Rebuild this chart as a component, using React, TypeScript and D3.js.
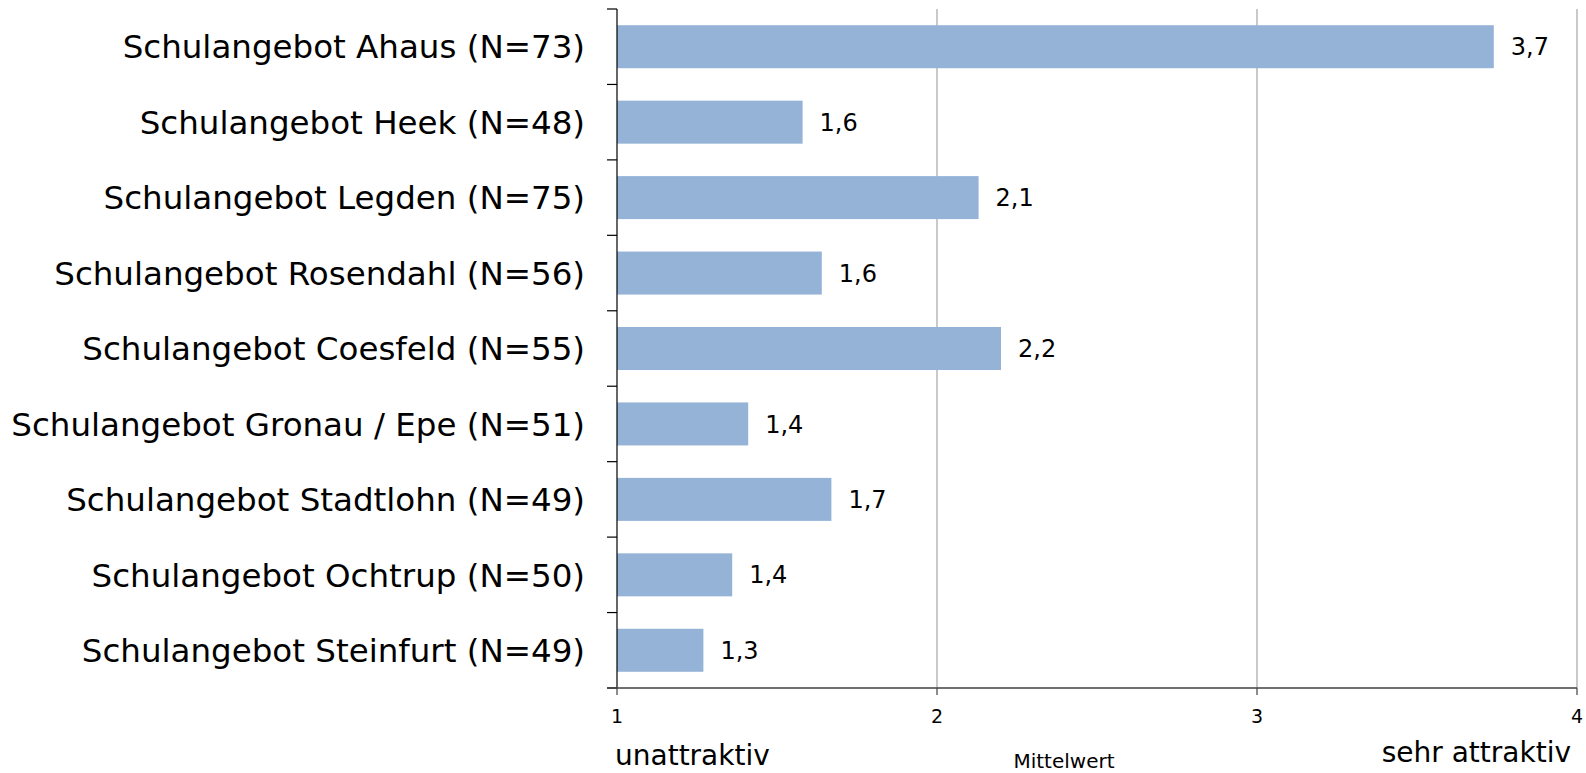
import React, { useEffect, useRef } from "react";
import * as d3 from "d3";

const categories = [
  "Schulangebot Ahaus (N=73)",
  "Schulangebot Heek (N=48)",
  "Schulangebot Legden (N=75)",
  "Schulangebot Rosendahl (N=56)",
  "Schulangebot Coesfeld (N=55)",
  "Schulangebot Gronau / Epe (N=51)",
  "Schulangebot Stadtlohn (N=49)",
  "Schulangebot Ochtrup (N=50)",
  "Schulangebot Steinfurt (N=49)",
];
const values = [3.74, 1.58, 2.13, 1.64, 2.2, 1.41, 1.67, 1.36, 1.27];
const xTicks = [1, 2, 3, 4];

const W = 1586;
const H = 773;
const FONT = "'DejaVu Sans', Verdana, sans-serif";

const App: React.FC = () => {
  const svgRef = useRef<SVGSVGElement | null>(null);

  useEffect(() => {
    if (!svgRef.current) return;
    const svg = d3.select(svgRef.current);
    svg.selectAll("*").remove();

    const margin = { top: 9, right: 9, bottom: 85, left: 617 };
    const innerW = W - margin.left - margin.right;
    const innerH = H - margin.top - margin.bottom;

    const x = d3.scaleLinear().domain([1, 4]).range([0, innerW]);
    const y = d3.scaleBand().domain(categories).range([0, innerH]).paddingInner(0.43).paddingOuter(0.215);
    const band = d3.scaleBand().domain(categories).range([0, innerH]);

    const g = svg.append("g").attr("transform", `translate(${margin.left},${margin.top})`);

    // vertical gridlines
    g.selectAll(".grid")
      .data(xTicks.slice(1))
      .enter()
      .append("line")
      .attr("x1", (d) => x(d))
      .attr("x2", (d) => x(d))
      .attr("y1", 0)
      .attr("y2", innerH)
      .attr("stroke", "#a6a6a6")
      .attr("stroke-width", 1.2);

    // bars
    g.selectAll(".bar")
      .data(values)
      .enter()
      .append("rect")
      .attr("x", 0)
      .attr("y", (_, i) => y(categories[i])!)
      .attr("width", (d) => x(d) - x(1))
      .attr("height", y.bandwidth())
      .attr("fill", "#95b3d7");

    // value labels
    g.selectAll(".val")
      .data(values)
      .enter()
      .append("text")
      .attr("x", (d) => x(d) + 17)
      .attr("y", (_, i) => y(categories[i])! + y.bandwidth() / 2)
      .attr("dy", "0.36em")
      .attr("font-family", FONT)
      .attr("font-size", 24)
      .attr("fill", "#000")
      .text((d) => d3.format(".1f")(d).replace(".", ","));

    // y axis
    const yAxis = g.append("g");
    yAxis
      .append("line")
      .attr("x1", 0)
      .attr("x2", 0)
      .attr("y1", 0)
      .attr("y2", innerH)
      .attr("stroke", "#000")
      .attr("stroke-width", 1.2);
    const bounds = [...categories.map((c) => band(c)!), innerH];
    yAxis
      .selectAll(".yt")
      .data(bounds)
      .enter()
      .append("line")
      .attr("x1", -10)
      .attr("x2", 0)
      .attr("y1", (d) => d)
      .attr("y2", (d) => d)
      .attr("stroke", "#000")
      .attr("stroke-width", 1.2);
    yAxis
      .selectAll(".cat")
      .data(categories)
      .enter()
      .append("text")
      .attr("x", -32)
      .attr("y", (d) => band(d)! + band.bandwidth() / 2)
      .attr("dy", "0.36em")
      .attr("text-anchor", "end")
      .attr("font-family", FONT)
      .attr("font-size", 32.5)
      .attr("fill", "#000")
      .text((d) => d);

    // x axis
    const xAxis = g.append("g").attr("transform", `translate(0,${innerH})`);
    xAxis
      .append("line")
      .attr("x1", -10)
      .attr("x2", innerW)
      .attr("stroke", "#404040")
      .attr("stroke-width", 1.5);
    xAxis
      .selectAll(".xt")
      .data(xTicks)
      .enter()
      .append("line")
      .attr("x1", (d) => x(d))
      .attr("x2", (d) => x(d))
      .attr("y1", 0)
      .attr("y2", 7)
      .attr("stroke", "#404040")
      .attr("stroke-width", 1.2);
    xAxis
      .selectAll(".xl")
      .data(xTicks)
      .enter()
      .append("text")
      .attr("x", (d) => x(d))
      .attr("y", 35)
      .attr("text-anchor", "middle")
      .attr("font-family", FONT)
      .attr("font-size", 19)
      .attr("fill", "#000")
      .text((d) => String(d));

    // bottom captions
    svg
      .append("text")
      .attr("x", 615)
      .attr("y", 765)
      .attr("font-family", FONT)
      .attr("font-size", 28)
      .text("unattraktiv");
    svg
      .append("text")
      .attr("x", 1064)
      .attr("y", 768)
      .attr("text-anchor", "middle")
      .attr("font-family", FONT)
      .attr("font-size", 20)
      .text("Mittelwert");
    svg
      .append("text")
      .attr("x", 1571)
      .attr("y", 762)
      .attr("text-anchor", "end")
      .attr("font-family", FONT)
      .attr("font-size", 28)
      .text("sehr attraktiv");
  }, []);

  return (
    <div style={{ position: "absolute", left: 0, top: 0, background: "#fff" }}>
      <svg ref={svgRef} width={W} height={H}></svg>
    </div>
  );
};

export default App;
